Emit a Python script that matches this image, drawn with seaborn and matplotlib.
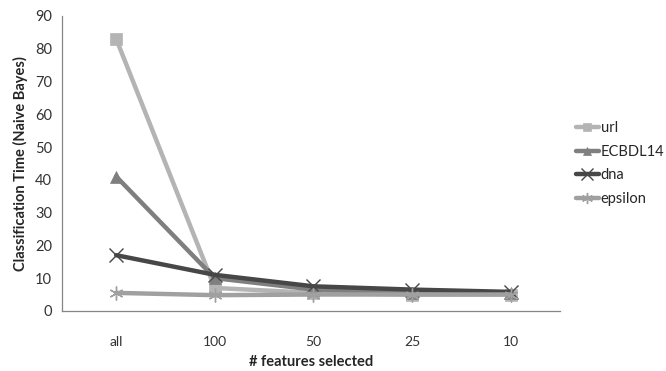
import matplotlib
matplotlib.use("Agg")
import matplotlib.pyplot as plt
import seaborn as sns
import pandas as pd

categories = ["all", "100", "50", "25", "10"]
url = [83.0, 7.0, 5.5, 5.0, 5.0]
ecbdl14 = [41.0, 10.0, 6.5, 5.5, 5.5]
dna = [17.0, 11.0, 7.5, 6.5, 5.8]
epsilon = [5.5, 4.8, 5.0, 5.0, 5.0]
series_names = ["url", "ECBDL14", "dna", "epsilon"]
series_values = [url, ecbdl14, dna, epsilon]
colors = ["#b4b4b4", "#7f7f7f", "#474747", "#a0a0a0"]
markers = ["s", "^", "x", (6, 2, 0)]
yticks = [0, 10, 20, 30, 40, 50, 60, 70, 80, 90]

rows = []
for name, vals in zip(series_names, series_values):
    for i, (c, v) in enumerate(zip(categories, vals)):
        rows.append({"cat": c, "pos": i, "series": name, "value": v})
df = pd.DataFrame(rows)

sns.set_style("white")
plt.rcParams["font.family"] = ["Lato", "DejaVu Sans"]

fig = plt.figure(figsize=(6.66, 3.71), dpi=100)
ax = fig.add_axes([0.093, 0.162, 0.748, 0.795])

for name, col, mk in zip(series_names, colors, markers):
    sub = df[df["series"] == name]
    thin = mk == "x" or isinstance(mk, tuple)
    sns.lineplot(data=sub, x="pos", y="value", ax=ax, color=col, lw=3.2,
                 marker=mk, markersize=10 if thin else 8,
                 markeredgecolor=col, markeredgewidth=1.0 if thin else 0.5,
                 label=name)

ax.set_xlim(-0.55, 4.5)
ax.set_ylim(0, 90)
ax.set_yticks(yticks)
ax.set_xticks(range(len(categories)))
ax.set_xticklabels(categories)
ax.tick_params(axis="y", length=4, width=0.8, color="#868686", labelsize=10.5, colors="#333333", pad=3)
ax.tick_params(axis="x", length=0, labelsize=10, colors="#333333", pad=18)
for side in ["top", "right"]:
    ax.spines[side].set_visible(False)
for side in ["left", "bottom"]:
    ax.spines[side].set_color("#868686")
    ax.spines[side].set_linewidth(0.9)
ax.set_xlabel("# features selected", fontsize=10.5, fontweight="bold", labelpad=5)
ax.set_ylabel("Classification Time (Naive Bayes)", fontsize=10.5, fontweight="bold", labelpad=5)

leg = ax.legend(loc="center left", bbox_to_anchor=(1.005, 0.5), frameon=False,
                fontsize=10.5, handlelength=1.6, handletextpad=0.1, labelspacing=0.65,
                markerscale=0.8)

fig.savefig("out.png", dpi=100)
